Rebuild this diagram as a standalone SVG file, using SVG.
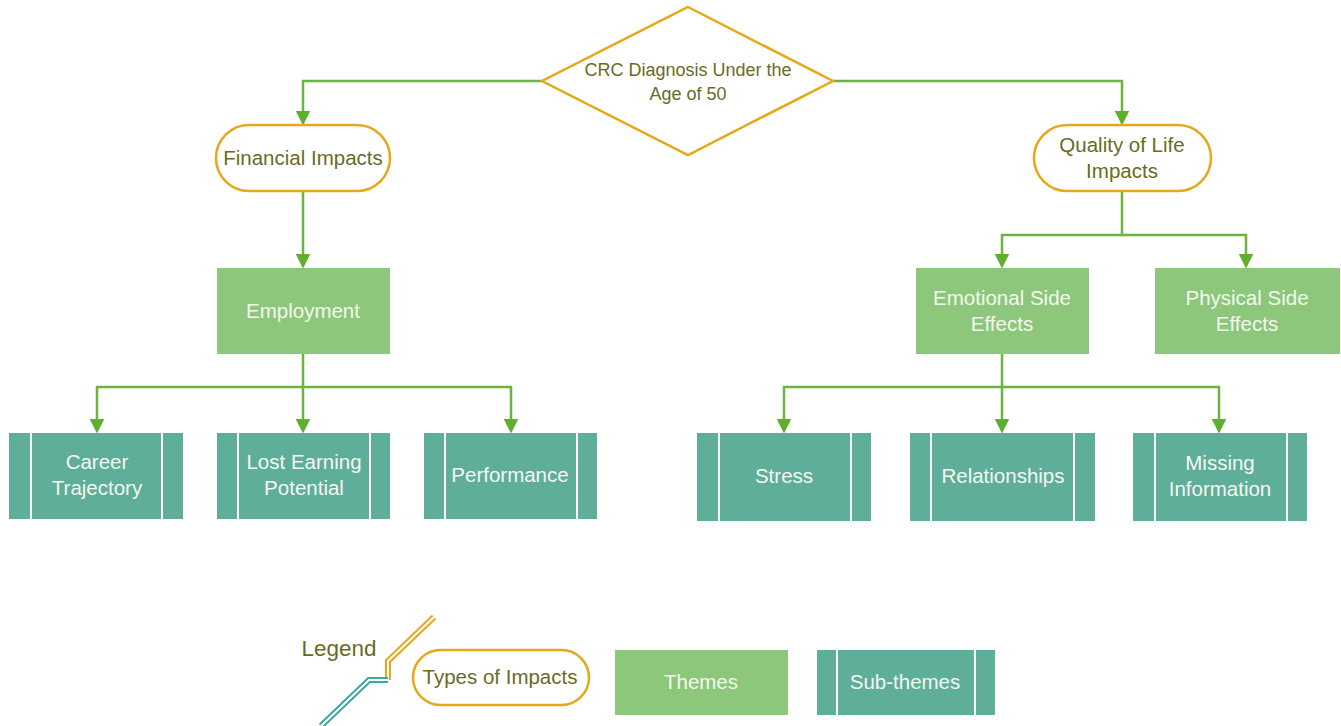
<svg xmlns="http://www.w3.org/2000/svg" width="1341" height="726" viewBox="0 0 1341 726">
<defs>
<marker id="ah" markerWidth="6" markerHeight="6" refX="5" refY="3" orient="auto" markerUnits="strokeWidth">
<path d="M0,0 L6,3 L0,6 Z" fill="#5fae2e"/>
</marker>
</defs>
<style>
.con{fill:none;stroke:#6db33f;stroke-width:2.5}
.impact{fill:#fff;stroke:#e8a61a;stroke-width:2.5}
.theme{fill:#8dc77b}
.sub{fill:#5fae9a}
.div{stroke:#fff;stroke-width:2}
.t1{font-family:"Liberation Sans",Arial,sans-serif;font-size:20.5px;fill:#6b6b1f;text-anchor:middle}
.t2{font-family:"Liberation Sans",Arial,sans-serif;font-size:20.5px;fill:#f4f8ee;text-anchor:middle}
.crc{font-size:18px}
.leg{font-size:22.5px}
</style>
<rect width="1341" height="726" fill="#fff"/>
<g id="connectors">
<path class="con" d="M542,81 H303 V123" marker-end="url(#ah)"/>
<path class="con" d="M833,81 H1122 V123" marker-end="url(#ah)"/>
<path class="con" d="M303,191 V266" marker-end="url(#ah)"/>
<path class="con" d="M1122,191 V235 H1002 V266" marker-end="url(#ah)"/>
<path class="con" d="M1122,235 H1246 V266" marker-end="url(#ah)"/>
<path class="con" d="M303,354 V387 H97 V431" marker-end="url(#ah)"/>
<path class="con" d="M303,387 V431" marker-end="url(#ah)"/>
<path class="con" d="M303,387 H511 V431" marker-end="url(#ah)"/>
<path class="con" d="M1002,354 V387 H784 V431" marker-end="url(#ah)"/>
<path class="con" d="M1002,387 V431" marker-end="url(#ah)"/>
<path class="con" d="M1002,387 H1219 V431" marker-end="url(#ah)"/>
</g>
<g id="crc">
<polygon class="impact" points="688,7 833,81 688,155 542,81"/>
<text class="t1 crc" x="688" y="76">CRC Diagnosis Under the</text>
<text class="t1 crc" x="688" y="100">Age of 50</text>
</g>
<g id="financial">
<rect class="impact" x="216" y="125" width="174" height="66" rx="33"/>
<text class="t1" x="303" y="165">Financial Impacts</text>
</g>
<g id="qol">
<rect class="impact" x="1034" y="125" width="177" height="66" rx="33"/>
<text class="t1" x="1122" y="152">Quality of Life</text>
<text class="t1" x="1122" y="178">Impacts</text>
</g>
<g id="employment">
<rect class="theme" x="217" y="268" width="173" height="86"/>
<text class="t2" x="303" y="318">Employment</text>
</g>
<g id="emotional">
<rect class="theme" x="916" y="268" width="173" height="86"/>
<text class="t2" x="1002" y="305">Emotional Side</text>
<text class="t2" x="1002" y="331">Effects</text>
</g>
<g id="physical">
<rect class="theme" x="1155" y="268" width="185" height="86"/>
<text class="t2" x="1247" y="305">Physical Side</text>
<text class="t2" x="1247" y="331">Effects</text>
</g>
<g id="career">
<rect class="sub" x="9" y="433" width="174" height="86"/>
<line class="div" x1="31" y1="433" x2="31" y2="519"/><line class="div" x1="162" y1="433" x2="162" y2="519"/>
<text class="t2" x="97" y="469">Career</text>
<text class="t2" x="97" y="495">Trajectory</text>
</g>
<g id="lost">
<rect class="sub" x="217" y="433" width="173" height="86"/>
<line class="div" x1="238" y1="433" x2="238" y2="519"/><line class="div" x1="370" y1="433" x2="370" y2="519"/>
<text class="t2" x="304" y="469">Lost Earning</text>
<text class="t2" x="304" y="495">Potential</text>
</g>
<g id="performance">
<rect class="sub" x="424" y="433" width="173" height="86"/>
<line class="div" x1="445" y1="433" x2="445" y2="519"/><line class="div" x1="577" y1="433" x2="577" y2="519"/>
<text class="t2" x="510" y="482">Performance</text>
</g>
<g id="stress">
<rect class="sub" x="697" y="433" width="174" height="88"/>
<line class="div" x1="719" y1="433" x2="719" y2="521"/><line class="div" x1="851" y1="433" x2="851" y2="521"/>
<text class="t2" x="784" y="483">Stress</text>
</g>
<g id="relationships">
<rect class="sub" x="910" y="433" width="185" height="88"/>
<line class="div" x1="931" y1="433" x2="931" y2="521"/><line class="div" x1="1074" y1="433" x2="1074" y2="521"/>
<text class="t2" x="1003" y="483">Relationships</text>
</g>
<g id="missing">
<rect class="sub" x="1133" y="433" width="174" height="88"/>
<line class="div" x1="1155" y1="433" x2="1155" y2="521"/><line class="div" x1="1287" y1="433" x2="1287" y2="521"/>
<text class="t2" x="1220" y="470">Missing</text>
<text class="t2" x="1220" y="496">Information</text>
</g>
<g id="legend">
<text class="t1 leg" x="339" y="656">Legend</text>
<path d="M434,617 L388,661 V680" fill="none" stroke="#e8a61a" stroke-width="6"/>
<path d="M434,617 L388,661 V680" fill="none" stroke="#fff" stroke-width="2"/>
<path d="M388,680 H369 L321,726" fill="none" stroke="#3aa89a" stroke-width="6"/>
<path d="M388,680 H369 L321,726" fill="none" stroke="#fff" stroke-width="2"/>
</g>
<g id="legend-impacts">
<rect class="impact" x="413" y="650" width="176" height="55" rx="27.5"/>
<text class="t1" x="500" y="684">Types of Impacts</text>
</g>
<g id="legend-themes">
<rect class="theme" x="615" y="650" width="173" height="65"/>
<text class="t2" x="701" y="689">Themes</text>
</g>
<g id="legend-subthemes">
<rect class="sub" x="817" y="650" width="178" height="65"/>
<line class="div" x1="837" y1="650" x2="837" y2="715"/><line class="div" x1="975" y1="650" x2="975" y2="715"/>
<text class="t2" x="905" y="689">Sub-themes</text>
</g>
</svg>
